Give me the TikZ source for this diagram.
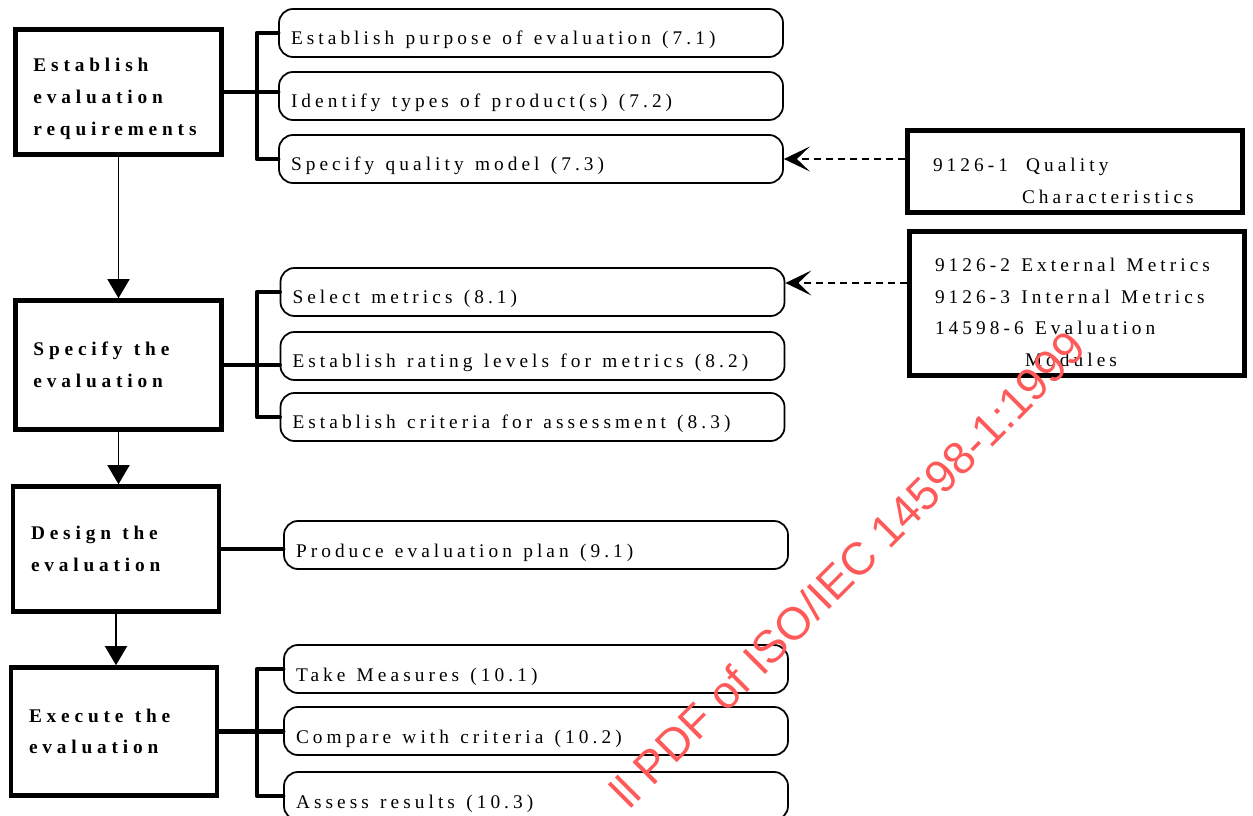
\documentclass[tikz,border=0pt]{standalone}
\usepackage{fontspec}
\setmainfont{Liberation Serif}
\setsansfont{Liberation Sans}
\newfontfamily\sptext[LetterSpace=21]{Liberation Serif}
\newfontfamily\spbold[LetterSpace=25]{Liberation Serif}
\newcommand\stagefont{\fontsize{11}{18}\selectfont\spbold\bfseries}
\newcommand\stepfont{\fontsize{11}{18}\selectfont\sptext}
\newcommand\wsp{\hspace{0.25em}}
\usetikzlibrary{arrows.meta,positioning,calc}
\definecolor{wmred}{RGB}{255,90,90}
\hyphenpenalty=10000
\exhyphenpenalty=10000

\begin{document}
\begin{tikzpicture}[
  every node/.style={font=\fontsize{11}{18}\selectfont},
  st/.style={draw=black,line width=2.6pt,align=left,text width=3.4cm,inner xsep=0.36cm,minimum height=2.5cm,font=\stagefont},
  sb/.style={draw=black,line width=1pt,rounded corners=0.28cm,align=left,text width=9.6cm,inner xsep=0.24cm,minimum height=0.96cm,text height=0.48cm,text depth=0pt,font=\stepfont},
  src/.style={draw=black,line width=2.6pt,align=left,text width=5.68cm,inner xsep=0.51cm,font=\stepfont},
  ar/.style={-{Triangle[width=0.44cm,length=0.38cm]},line width=0.8pt},
  br/.style={line width=2.6pt,line cap=round,line join=round},
  dr/.style={-{Stealth[length=0.52cm,width=0.5cm,inset=0.26cm]},line width=0.8pt,dash pattern=on 0.14cm off 0.1cm},
  wm/.style={font=\fontsize{26}{26}\selectfont\sffamily,text=wmred,rotate=45}]
\useasboundingbox (0,0) rectangle (25.06,-16.32);
\node[st,minimum height=2.5cm,text height=0.3cm,text depth=1.1cm] (m1) at (2.37,-1.84) {Establish\\evaluation\\requirements};
\node[st,minimum height=2.58cm] (m2) at (2.37,-7.30) {Specify \wsp the\\evaluation};
\node[st,minimum height=2.5cm] (m3) at (2.32,-10.98) {Design \wsp the\\evaluation};
\node[st,minimum height=2.56cm] (m4) at (2.28,-14.63) {Execute \wsp the\\evaluation};
\node[sb] (s11) at (10.62,-0.66) {Establish \wsp purpose \wsp of \wsp evaluation \wsp (7.1)};
\node[sb] (s12) at (10.62,-1.92) {Identify \wsp types \wsp of \wsp product(s) \wsp (7.2)};
\node[sb] (s13) at (10.62,-3.18) {Specify \wsp quality \wsp model \wsp (7.3)};
\node[sb] (s21) at (10.65,-5.84) {Select \wsp metrics \wsp (8.1)};
\node[sb] (s22) at (10.65,-7.12) {Establish \wsp rating \wsp levels \wsp for \wsp metrics \wsp (8.2)};
\node[sb] (s23) at (10.65,-8.34) {Establish \wsp criteria \wsp for \wsp assessment \wsp (8.3)};
\node[sb] (s31) at (10.72,-10.90) {Produce \wsp evaluation \wsp plan \wsp (9.1)};
\node[sb] (s41) at (10.72,-13.38) {Take \wsp Measures \wsp (10.1)};
\node[sb] (s42) at (10.72,-14.62) {Compare \wsp with \wsp criteria \wsp (10.2)};
\node[sb] (s43) at (10.72,-15.92) {Assess \wsp results \wsp (10.3)};
\node[src,minimum width=6.7cm,minimum height=1.64cm,text height=0.4cm,text depth=0.4cm] (r1) at (21.5,-3.43) {9126-1~\hspace{0.6em}Quality\\\hspace*{1.78cm}Characteristics};
\node[src,minimum width=6.7cm,minimum height=2.88cm,text height=0.3cm,text depth=1.58cm] (r2) at (21.54,-6.07) {9126-2~\wsp External~\wsp Metrics\\9126-3~\wsp Internal~\wsp Metrics\\14598-6~\wsp Evaluation\\\hspace*{1.8cm}Modules};
\coordinate (k1) at (5.14,0);
\draw[br] (m1.east) -- (m1.east -| s12.west);
\draw[br] (s11.west) -- (s11.west -| k1) -- (s13.west -| k1) -- (s13.west);
\draw[br] (m2.east) -- (m2.east -| s22.west);
\draw[br] (s21.west) -- (s21.west -| k1) -- (s23.west -| k1) -- (s23.west);
\draw[br] (m3.east) -- (m3.east -| s31.west);
\draw[br] (m4.east) -- (m4.east -| s42.west);
\draw[br] (s41.west) -- (s41.west -| k1) -- (s43.west -| k1) -- (s43.west);
\draw[ar] (m1.south) -- (m1.south |- m2.north);
\draw[ar] (m2.south) -- (m2.south |- m3.north);
\draw[ar] (m3.south) -- (m3.south |- m4.north);
\coordinate (t2) at ($(s21.east)+(0,0.18)$);
\draw[dr] (r1.west |- s13.east) -- (s13.east);
\draw[dr] (r2.west |- t2) -- (t2);
\node[wm] (wmk) at (16.95,-11.38) {ll PDF of ISO/IEC 14598-1:1999};
\end{tikzpicture}
\end{document}
